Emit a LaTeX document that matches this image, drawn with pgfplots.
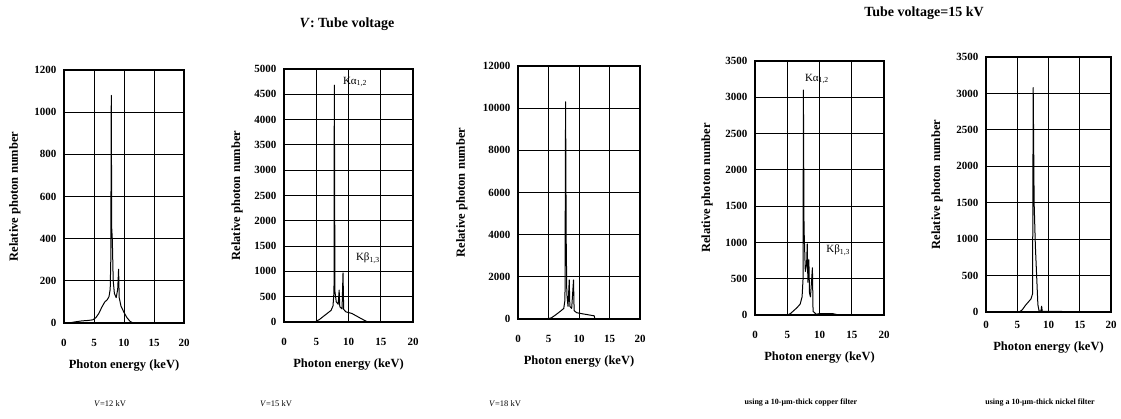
\documentclass[border=0pt]{standalone}
\usepackage{pgfplots}
\pgfplotsset{compat=1.18}
\usepackage{fontspec}
\setmainfont{Liberation Serif}

\newcommand{\tickfont}{\fontsize{11}{11}\selectfont\bfseries}
\newcommand{\labfont}{\fontsize{12.5}{13}\selectfont\bfseries}
\newcommand{\kfont}{\fontsize{11}{11}\selectfont}

\pgfplotsset{
  panel/.style={
    scale only axis, anchor=south west,
    xmin=0, xmax=20, ymin=0,
    xtick={0,5,10,15,20},
    grid=major, major grid style={black, line width=0.8pt},
    axis line style={line width=1.2pt},
    major tick length=0pt,
    tick label style={font=\tickfont},
    /pgf/number format/assume math mode=true,
    /pgf/number format/1000 sep={},
    scaled y ticks=false,
    xticklabel style={yshift=-13pt},
    yticklabel style={xshift=-4pt},
    xlabel={Photon energy (keV)},
    ylabel={Relative photon number},
    label style={font=\labfont},
    xlabel style={at={(axis description cs:0.5,0)}, anchor=center, yshift=-43pt},
    ylabel style={at={(axis description cs:#1,0.5)}, anchor=center},
  },
  spec/.style={black, line width=1pt, line join=round},
}

\begin{document}
\begin{tikzpicture}
\path[use as bounding box] (0,0) rectangle (1121pt,419pt);

% V = 12 kV
\begin{axis}[panel=-0.41, at={(64pt,96pt)}, width=120pt, height=253pt,
  ymax=1200, ytick={0,200,...,1200}]
\addplot[spec] coordinates {
 (0,0) (1,1) (2,6) (3,10) (4,12) (4.8,15) (5.3,25) (5.8,45) (6.3,75) (6.8,100)
 (7.2,110) (7.5,125) (7.7,160) (7.8,300) (7.88,1080) (7.95,450) (8.05,400)
 (8.2,200) (8.4,140) (8.7,120) (8.95,160) (9.1,255) (9.2,120) (9.5,80)
 (10,50) (10.5,25) (11,8) (11.5,0) (20,0)};
\end{axis}

% V = 15 kV
\begin{axis}[panel=-0.364, at={(284pt,97pt)}, width=129pt, height=253pt,
  ymax=5000, ytick={0,500,...,5000}]
\addplot[spec] coordinates {
 (0,0) (4.8,0) (5.5,50) (6.2,120) (6.8,180) (7.3,230) (7.6,320) (7.75,600)
 (7.8,4680) (7.9,600) (8.1,400) (8.4,350) (8.55,630) (8.65,300) (9.0,260)
 (9.15,970) (9.25,250) (9.6,200) (10.5,170) (11.5,100) (12.5,30) (13,0) (20,0)};
\node[font=\kfont, anchor=center] at (axis cs:11.0,4740) {Kα\textsubscript{1,2}};
\node[font=\kfont, anchor=center] at (axis cs:13.0,1265) {Kβ\textsubscript{1,3}};
\end{axis}

% V = 18 kV
\begin{axis}[panel=-0.46, at={(518pt,100pt)}, width=122pt, height=253pt,
  ymax=12000, ytick={0,2000,...,12000}]
\addplot[spec] coordinates {
 (0,0) (4.8,0) (5.5,60) (6.2,200) (7.0,380) (7.5,500) (7.7,900) (7.8,10300)
 (7.9,3800) (8.0,1200) (8.2,600) (8.4,1850) (8.5,600) (8.8,500) (9.1,1850)
 (9.2,400) (9.6,300) (10.5,250) (11.5,200) (12.5,150) (12.6,0) (20,0)};
\end{axis}

% copper filter
\begin{axis}[panel=-0.372, at={(755pt,104pt)}, width=129pt, height=254pt,
  ymax=3500, ytick={0,500,...,3500}]
\addplot[spec] coordinates {
 (0,0) (5,0) (5.5,20) (6,60) (6.5,100) (7,150) (7.3,250) (7.45,500) (7.5,3100)
 (7.6,1200) (7.8,600) (8.0,700) (8.1,980) (8.2,450) (8.35,760) (8.45,300)
 (8.6,250) (8.9,650) (9.0,50) (9.5,10) (10,20) (12,20) (13,0) (20,0)};
\node[font=\kfont, anchor=center] at (axis cs:9.6,3250) {Kα\textsubscript{1,2}};
\node[font=\kfont, anchor=center] at (axis cs:12.9,895) {Kβ\textsubscript{1,3}};
\end{axis}

% nickel filter
\begin{axis}[panel=-0.392, at={(986pt,107pt)}, width=125pt, height=255pt,
  ymax=3500, ytick={0,500,...,3500},
  xticklabel style={yshift=7pt}, xlabel style={yshift=7pt}]
\addplot[spec] coordinates {
 (0,0) (5.3,0) (5.8,30) (6.3,90) (6.8,140) (7.2,180) (7.45,250) (7.55,3080)
 (7.7,1500) (7.9,900) (8.1,500) (8.3,100) (8.5,10) (8.8,15) (8.9,80) (9.0,10)
 (10,10) (12,10) (12.5,0) (20,0)};
\end{axis}

% titles and captions
\node[font=\fontsize{14}{14}\selectfont\bfseries] at (347pt,395pt) {\textit{V}: Tube voltage};
\node[font=\fontsize{14}{14}\selectfont\bfseries] at (924pt,406pt) {Tube voltage=15 kV};
\node[font=\fontsize{8.5}{8.5}\selectfont] at (110pt,15pt) {\textit{V}=12 kV};
\node[font=\fontsize{8.5}{8.5}\selectfont] at (276pt,15pt) {\textit{V}=15 kV};
\node[font=\fontsize{8.5}{8.5}\selectfont] at (505pt,15pt) {\textit{V}=18 kV};
\node[font=\fontsize{8}{8}\selectfont\bfseries] at (801pt,16pt) {using a 10-μm-thick copper filter};
\node[font=\fontsize{8}{8}\selectfont\bfseries] at (1040pt,16pt) {using a 10-μm-thick nickel filter};
\end{tikzpicture}
\end{document}
